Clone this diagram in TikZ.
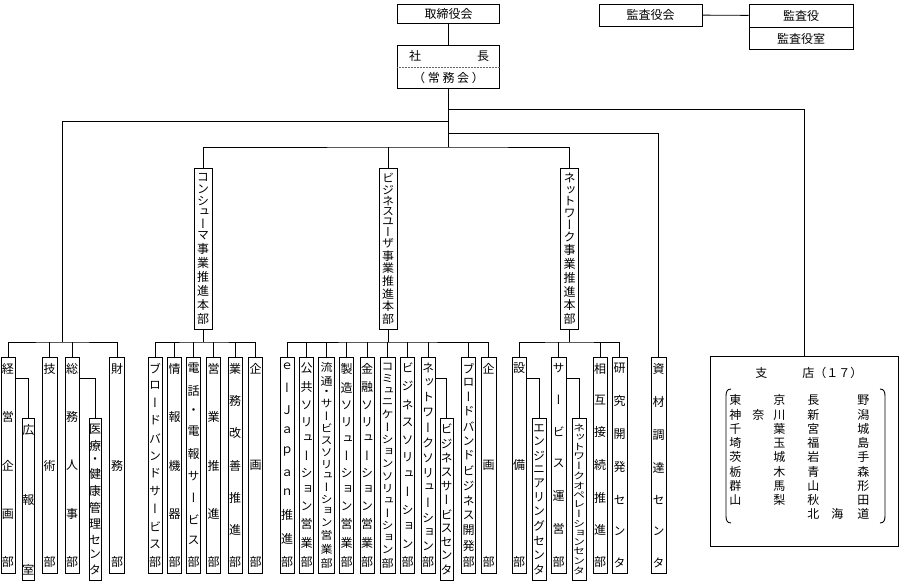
\documentclass[tikz,border=0pt]{standalone}
\usepackage{fontspec}
\usepackage{graphicx}
\usetikzlibrary{positioning}
\newfontfamily\jpfont{Noto Sans CJK JP}
\newfontfamily\jpvfont[RawFeature=+vert]{Noto Sans CJK JP}
\newcommand\tateend{}
\newcommand\tate[2]{\vbox to #1pt{\offinterlineskip\let\tatesep\relax\tateloop#2\tateend}}
\def\tateloop#1{\ifx\tateend#1\else\tatesep\hbox to 0pt{\hss#1\hss}\let\tatesep\vfill\expandafter\tateloop\fi}
\newcommand\prefrow[6]{\makebox[23pt][l]{#1}\makebox[21pt][l]{#2}\makebox[34pt][l]{#3}\makebox[24pt][l]{#4}\makebox[26pt][l]{#5}#6}

\begin{document}
\begin{tikzpicture}[
  x=1pt,y=-1pt,
  font=\jpfont\fontsize{12}{14}\selectfont,
  line width=0.9pt,
  waku/.style={draw,inner sep=0pt,minimum height=22pt},
  bu/.style={draw,inner sep=0pt,anchor=north,minimum width=14pt,minimum height=216pt,
    font=\jpvfont\fontsize{12}{14}\selectfont},
  ka/.style={bu,minimum width=13pt,minimum height=162pt},
  honbu/.style={bu,minimum width=18pt,minimum height=161pt}
]
\useasboundingbox (0,0) rectangle (903,581);

\node[waku,minimum width=102pt,minimum height=19pt] (torishimari) at (448.5,13.7) {取締役会};
\node[draw,inner sep=0pt,minimum width=102pt,minimum height=43pt] (shachou) at (448.5,66.8) {};
\draw[densely dotted,line width=0.5pt,black!60] (shachou.west) -- (shachou.east);
\node (sha) at (415,56) {社};
\node (chou) at (483,56) {長};
\node (joumu) at (448.5,78) {（ 常 務 会 ）};

\node[waku,minimum width=103pt] (kansayakukai) at (650.5,15) {監査役会};
\node[waku,minimum width=104pt,minimum height=23pt] (kansayaku) at (801,15.5) {監査役};
\node[waku,minimum width=104pt,below=0pt of kansayaku] (kansayakushitsu) {監査役室};
\draw (kansayakukai) -- (kansayaku);

\coordinate (trunk) at (448.5,147);
\coordinate (br1) at (448.5,109);
\coordinate (br2) at (448.5,121);
\coordinate (br3) at (448.5,133);

\node[bu] (keiei) at (8,357) {\tate{204}{経営企画部}};
\node[ka,minimum width=12pt] (kouhou) at (28.5,418) {\tate{150}{広報室}};
\node[bu,minimum width=15pt] (gijutsu) at (49.5,357) {\tate{204}{技術部}};
\node[bu] (soumu) at (72,357) {\tate{204}{総務人事部}};
\node[ka,minimum width=12pt] (iryou) at (95,418) {\tate{150}{医療・健康管理センタ}};
\node[bu,minimum width=15pt] (zaimu) at (117,357) {\tate{204}{財務部}};
\coordinate (kanri) at (62,342);

\node[honbu] (consumer) at (203,168) {\tate{150}{コンシューマ事業推進本部}};
\node[bu] (bband) at (155,357) {\tate{204}{ブロードバンドサービス部}};
\node[bu] (jouhou) at (174.5,357) {\tate{204}{情報機器部}};
\node[bu] (denwa) at (193.5,357) {\tate{204}{電話・電報サービス部}};
\node[bu] (eigyou) at (213.5,357) {\tate{204}{営業推進部}};
\node[bu] (gyoumu) at (235,357) {\tate{204}{業務改善推進部}};
\node[bu] (ckikaku) at (255.5,357) {\tate{204}{企画部}};
\coordinate (cbus) at (203,342);

\node[honbu] (business) at (388,168) {\scalebox{1}[0.96]{\tate{156}{ビジネスユーザ事業推進本部}}};
\node[bu] (ejapan) at (287,357) {\tate{204}{ｅーＪａｐａｎ推進部}};
\node[bu] (koukyou) at (306.5,357) {\tate{204}{公共ソリューション営業部}};
\node[bu,minimum width=16pt] (ryuutsuu) at (326.5,357) {\scalebox{1}[0.9]{\tate{227}{流通・サービスソリューション営業部}}};
\node[bu] (seizou) at (346.5,357) {\tate{204}{製造ソリューション営業部}};
\node[bu] (kinyuu) at (367,357) {\tate{204}{金融ソリューション営業部}};
\node[bu,minimum width=15pt] (comm) at (387.5,357) {\scalebox{1}[0.9]{\tate{227}{コミュニケーションソリューション部}}};
\node[bu] (bizsol) at (407.5,357) {\tate{204}{ビジネスソリューション部}};
\node[bu] (netsol) at (428,357) {\tate{204}{ネットワークソリューション部}};
\node[ka] (bizsvc) at (446.5,418) {\tate{150}{ビジネスサービスセンタ}};
\node[bu] (bbdev) at (468.5,357) {\tate{204}{ブロードバンドビジネス開発部}};
\node[bu,minimum width=15pt] (bkikaku) at (488.5,357) {\tate{204}{企画部}};
\coordinate (bbus) at (388,342);

\node[honbu] (network) at (569.5,168) {\tate{150}{ネットワーク事業推進本部}};
\node[bu] (setsubi) at (519,357) {\tate{204}{設備部}};
\node[ka,minimum width=14pt] (eng) at (539,418) {\tate{150}{エンジニアリングセンタ}};
\node[bu,minimum width=15pt] (service) at (558.5,357) {\tate{204}{サービス運営部}};
\node[ka,minimum width=14pt] (netops) at (579,418) {\scalebox{1}[0.78]{\tate{192}{ネットワークオペレーションセンタ}}};
\node[bu] (sougo) at (600,357) {\tate{204}{相互接続推進部}};
\node[bu,minimum width=15pt] (kenkyuu) at (619.5,357) {\tate{204}{研究開発センタ}};
\coordinate (nbus) at (569.5,342);

\node[bu,minimum width=15pt] (shizai) at (658.5,357) {\tate{204}{資材調達センタ}};

\node[draw,inner sep=0pt,minimum width=188pt,minimum height=190pt] (shiten) at (804,451) {};
\node[anchor=west,inner sep=0pt] (shitenmei) at (755,373) {支\hspace{35pt}店（１７）};
\foreach \a/\b/\c/\d/\e/\f [count=\r] in {東/{}/京/長/{}/野,神/奈/川/新/{}/潟,千/{}/葉/宮/{}/城,
    埼/{}/玉/福/{}/島,茨/{}/城/岩/{}/手,栃/{}/木/青/{}/森,群/{}/馬/山/{}/形,
    山/{}/梨/秋/{}/田,{}/{}/{}/北/海/道}
  \node[anchor=west,inner sep=0pt] (pref\r) at (729,386+14.25*\r) {\prefrow{\a}{\b}{\c}{\d}{\e}{\f}};
\draw (731,389) .. controls (727,389) and (726,392) .. (726,396) -- (726,516)
  .. controls (726,520) and (727,523) .. (731,523);
\draw (880,389) .. controls (884,389) and (885,392) .. (885,396) -- (885,516)
  .. controls (885,520) and (884,523) .. (880,523);

\draw (torishimari) -- (shachou);
\draw (shachou) -- (trunk);
\draw (br1) -| (shiten.north);
\draw (br2) -| (kanri);
\draw (br3) -| (shizai.north);
\draw (consumer.north) |- (trunk) -| (network.north);
\draw (business.north) -- (business.north |- trunk);

\draw (keiei.north) |- (kanri) -| (zaimu.north);
\foreach \n in {gijutsu,soumu}
  \draw (\n.north) -- (\n.north |- kanri);
\draw (keiei.north east) ++(0,21) -| (kouhou.north);
\draw (soumu.north east) ++(0,21) -| (iryou.north);

\draw (consumer) -- (cbus);
\draw (bband.north) |- (cbus) -| (ckikaku.north);
\foreach \n in {jouhou,denwa,eigyou,gyoumu}
  \draw (\n.north) -- (\n.north |- cbus);

\draw (business) -- (bbus);
\draw (ejapan.north) |- (bbus) -| (bkikaku.north);
\foreach \n in {koukyou,ryuutsuu,seizou,kinyuu,comm,bizsol,netsol,bbdev}
  \draw (\n.north) -- (\n.north |- bbus);
\draw (netsol.north east) ++(0,21) -| (bizsvc.north);

\draw (network) -- (nbus);
\draw (setsubi.north) |- (nbus) -| (kenkyuu.north);
\foreach \n in {service,sougo}
  \draw (\n.north) -- (\n.north |- nbus);
\draw (setsubi.north east) ++(0,21) -| (eng.north);
\draw (service.north east) ++(0,21) -| (netops.north);
\end{tikzpicture}
\end{document}
